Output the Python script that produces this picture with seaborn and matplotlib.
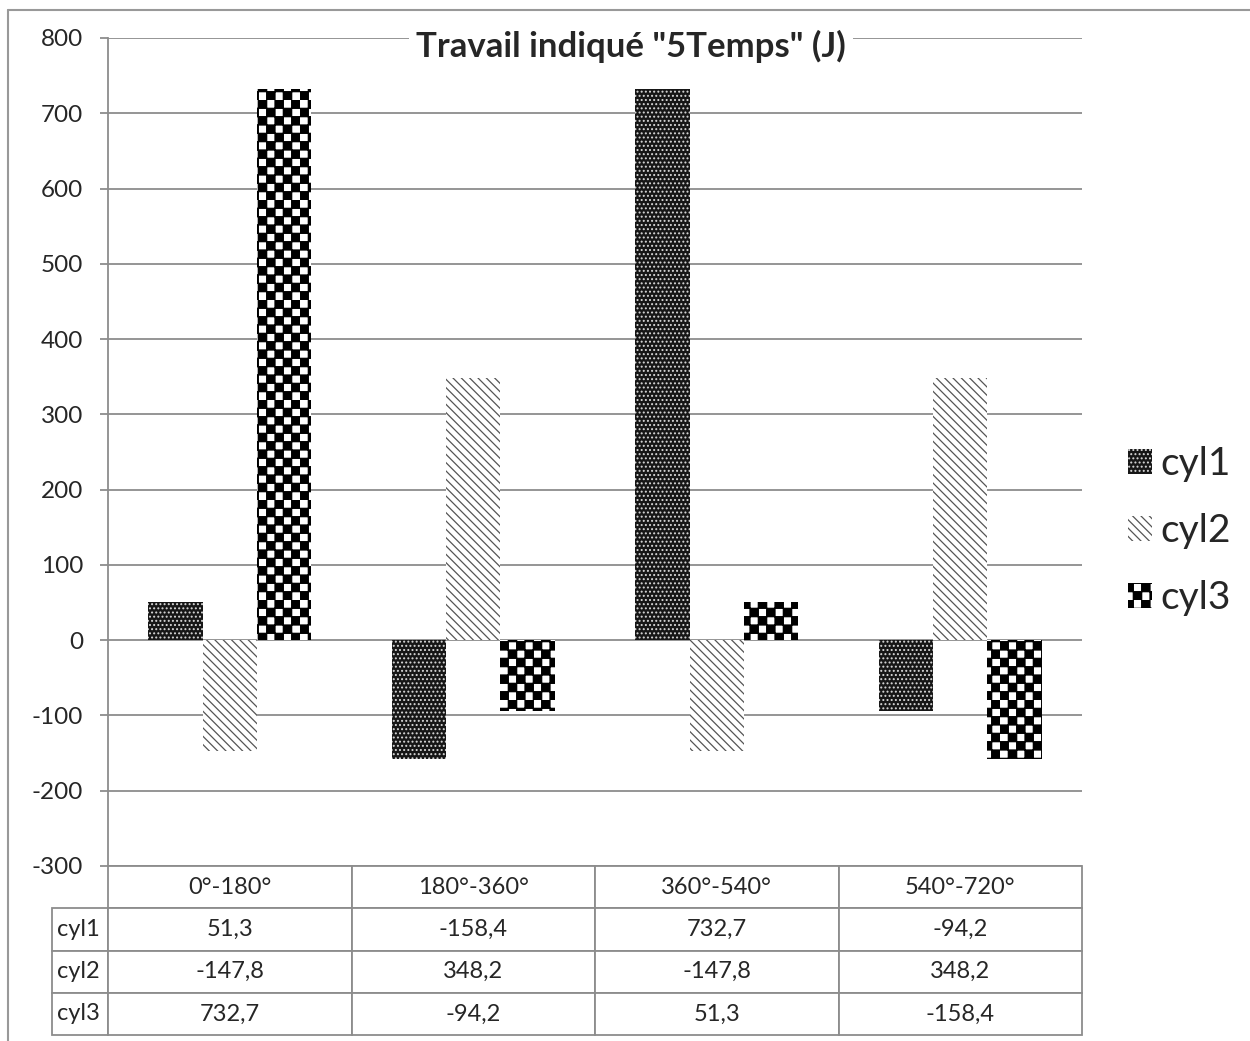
import numpy as np
import pandas as pd
import seaborn as sns
import matplotlib
matplotlib.use("Agg")
import matplotlib.pyplot as plt
import matplotlib.hatch as mhatch
from matplotlib.path import Path
from matplotlib.patches import Patch
from matplotlib.lines import Line2D

# =========================
# Data
# =========================
phases = ["0°-180°", "180°-360°", "360°-540°", "540°-720°"]
cylinders = ["cyl1", "cyl2", "cyl3"]
cyl1 = [51.3, -158.4, 732.7, -94.2]
cyl2 = [-147.8, 348.2, -147.8, 348.2]
cyl3 = [732.7, -94.2, 51.3, -158.4]
y_ticks = list(range(-300, 801, 100))
title = 'Travail indiqué "5Temps" (J)'

df = pd.DataFrame({
    "phase": phases * 3,
    "cyl": np.repeat(cylinders, len(phases)),
    "W": cyl1 + cyl2 + cyl3,
})


# =========================
# Checkerboard hatch (takes the place of '*')
# =========================
class CheckerHatch(mhatch.HatchPatternBase):
    filled = True

    def __init__(self, hatch, density):
        self.n = 12 if "*" in hatch else 0
        self.num_vertices = (self.n * self.n // 2) * 5

    def set_vertices_and_codes(self, vertices, codes):
        s = 1.0 / self.n
        k = 0
        for i in range(self.n):
            for j in range(self.n):
                if (i + j) % 2 == 0:
                    x0, y0 = i * s, j * s
                    vertices[k:k + 5] = [(x0, y0), (x0 + s, y0), (x0 + s, y0 + s),
                                         (x0, y0 + s), (x0, y0)]
                    codes[k] = Path.MOVETO
                    codes[k + 1:k + 4] = Path.LINETO
                    codes[k + 4] = Path.CLOSEPOLY
                    k += 5


mhatch._hatch_types[:] = [t for t in mhatch._hatch_types if t is not mhatch.Stars] + [CheckerHatch]

# =========================
# Style
# =========================
sns.set_style("white")
plt.rcParams["font.family"] = ["Lato", "DejaVu Sans"]
plt.rcParams["axes.unicode_minus"] = False
plt.rcParams["hatch.linewidth"] = 0.9

styles = {
    "cyl1": dict(facecolor="#161616", hatch="....", edgecolor="#d8d8d8"),
    "cyl2": dict(facecolor="white", hatch="\\\\\\\\", edgecolor="#555555"),
    "cyl3": dict(facecolor="white", hatch="*", edgecolor="black"),
}

grid_col = "#8c8c8c"

fig = plt.figure(figsize=(12.5, 10.41), dpi=100)
ax = fig.add_axes([108 / 1250, 1 - 866 / 1041, 974 / 1250, 828 / 1041])

sns.barplot(data=df, x="phase", y="W", hue="cyl", order=phases, hue_order=cylinders,
            width=0.67, gap=0, errorbar=None, legend=False, ax=ax,
            palette=["#161616", "white", "white"])

for cont, name in zip(ax.containers, cylinders):
    for bar in cont:
        bar.set_facecolor(styles[name]["facecolor"])
        bar.set_edgecolor(styles[name]["edgecolor"])
        bar.set_hatch(styles[name]["hatch"])
        bar.set_linewidth(0)

ax.set_ylim(-300, 800)
ax.set_xlim(-0.5, 3.5)
ax.set_yticks(y_ticks)
ax.set_yticklabels([str(t) for t in y_ticks], fontsize=17.5)
ax.set_xticks([])
ax.set_xlabel("")
ax.set_ylabel("")
ax.set_axisbelow(True)
ax.yaxis.grid(True, color=grid_col, linewidth=1.3)
ax.tick_params(axis="y", direction="out", length=6, width=1.3, color=grid_col,
               pad=12, left=True)
for side in ["top", "right", "bottom"]:
    ax.spines[side].set_visible(False)
ax.spines["left"].set_color(grid_col)
ax.spines["left"].set_linewidth(1.3)

# =========================
# Data table under the chart
# =========================
def fmt(v):
    return f"{v:.1f}".replace(".", ",")

cell_text = [[name] + [fmt(v) for v in vals]
             for name, vals in zip(cylinders, [cyl1, cyl2, cyl3])]
label_w = 56
col_w = 974 / 4
total_w = label_w + 974
tbl = ax.table(cellText=cell_text, colLabels=[""] + phases,
               colWidths=[label_w / total_w] + [col_w / total_w] * 4,
               cellLoc="center",
               bbox=[-label_w / 974, -169 / 828, total_w / 974, 169 / 828])
tbl.auto_set_font_size(False)
tbl.set_fontsize(17)
for (r, c), cell in tbl.get_celld().items():
    cell.set_edgecolor(grid_col)
    cell.set_linewidth(1.3)
    if r == 0 and c == 0:
        cell.visible_edges = ""
    if c == 0 and r > 0:
        cell.get_text().set_ha("left")
        cell.PAD = 0.09

# =========================
# Title, legend, frame
# =========================
fig.text(631 / 1250, 1 - 46 / 1041, title, ha="center", va="center",
         fontsize=25, fontweight="bold",
         bbox=dict(facecolor="white", edgecolor="none", pad=5))

handles = [Patch(facecolor=styles[n]["facecolor"], edgecolor=styles[n]["edgecolor"],
                 hatch=styles[n]["hatch"], linewidth=0, label=n) for n in cylinders]
fig.legend(handles=handles, loc="center left", bbox_to_anchor=(1128 / 1250, 1 - 531 / 1041),
           frameon=False, fontsize=28, handlelength=0.62, handleheight=0.62,
           handletextpad=0.2, labelspacing=0.8, borderpad=0, borderaxespad=0)

fig.add_artist(Line2D([8 / 1250, 1], [1 - 10 / 1041] * 2, color="#999999", lw=1.5))
fig.add_artist(Line2D([8 / 1250] * 2, [0, 1 - 10 / 1041], color="#999999", lw=1.5))

fig.savefig("out.png", dpi=100, facecolor="white")
